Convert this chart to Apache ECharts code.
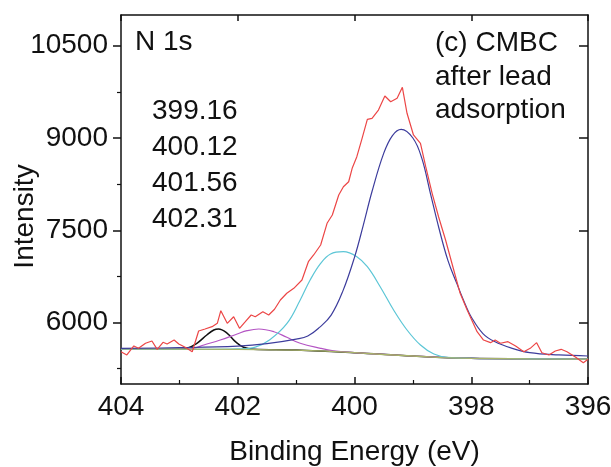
<!DOCTYPE html>
<html>
<head>
<meta charset="utf-8">
<script src="https://cdn.jsdelivr.net/npm/echarts@6/dist/echarts.min.js"></script>
<style>html,body{margin:0;padding:0;background:#fff}#c{width:611px;height:467px}</style>
</head>
<body>
<div id="c"></div>
<script>
// ---- data ----
const xTicks = [396, 398, 400, 402, 404];
const yLabelTicks = [6000, 7500, 9000, 10500];
const yMinorTicks = [5250, 6750, 8250, 9750];
const peakLabels = ['399.16', '400.12', '401.56', '402.31'];

const rawE = [404.00, 403.90, 403.78, 403.70, 403.58, 403.47, 403.38, 403.28, 403.21, 403.09, 403.01, 402.90, 402.78, 402.67, 402.56, 402.44, 402.35, 402.29, 402.18, 402.07, 401.97, 401.87, 401.77, 401.70, 401.57, 401.47, 401.37, 401.27, 401.16, 401.04, 400.90, 400.84, 400.79, 400.70, 400.58, 400.47, 400.38, 400.27, 400.19, 400.10, 400.04, 399.96, 399.87, 399.78, 399.70, 399.59, 399.48, 399.38, 399.27, 399.18, 399.10, 398.99, 398.87, 398.78, 398.67, 398.56, 398.44, 398.30, 398.19, 398.07, 397.90, 397.79, 397.67, 397.59, 397.50, 397.37, 397.24, 397.10, 396.99, 396.88, 396.79, 396.67, 396.56, 396.46, 396.36, 396.21, 396.08, 396.00];
const rawI = [5525, 5472, 5618, 5580, 5662, 5699, 5564, 5678, 5650, 5715, 5650, 5597, 5525, 5862, 5894, 5932, 5987, 6192, 5987, 6094, 5906, 6013, 6122, 6094, 6176, 6122, 6215, 6366, 6475, 6556, 6691, 6854, 6989, 7098, 7260, 7613, 7748, 8073, 8208, 8289, 8507, 8696, 8995, 9304, 9320, 9455, 9683, 9590, 9645, 9824, 9402, 9049, 8914, 8533, 8101, 7720, 7341, 6854, 6475, 6203, 5850, 5715, 5672, 5715, 5662, 5688, 5618, 5525, 5580, 5672, 5509, 5472, 5537, 5564, 5525, 5434, 5346, 5402];

const blueE = [404, 403, 402, 401.5, 401, 400.8, 400.6, 400.4, 400.2, 400.0, 399.85, 399.7, 399.5, 399.35, 399.2, 399.0, 398.85, 398.7, 398.55, 398.4, 398.25, 398.1, 398.0, 397.8, 397.6, 397.3, 397.0, 396.5, 396.0];
const blueI = [5580, 5590, 5615, 5655, 5730, 5780, 5920, 6120, 6510, 7060, 7580, 8130, 8750, 9040, 9141, 9000, 8680, 8100, 7520, 7010, 6640, 6290, 6090, 5820, 5690, 5580, 5510, 5472, 5455];

const cyanE = [404, 402.6, 402.0, 401.7, 401.45, 401.16, 400.93, 400.76, 400.58, 400.41, 400.19, 399.96, 399.78, 399.56, 399.33, 399.10, 398.87, 398.64, 398.41, 398.0, 397.0, 396.0];
const cyanI = [5568, 5562, 5570, 5600, 5720, 5980, 6366, 6691, 6962, 7114, 7151, 7070, 6907, 6582, 6203, 5878, 5634, 5488, 5434, 5418, 5410, 5405];

const magE = [404, 403.0, 402.76, 402.58, 402.30, 402.01, 401.84, 401.64, 401.38, 401.16, 400.93, 400.58, 400.36, 400.0, 399.0, 398.0, 397.0, 396.0];
const magI = [5568, 5564, 5580, 5634, 5715, 5813, 5867, 5894, 5850, 5759, 5662, 5580, 5541, 5509, 5455, 5418, 5410, 5405];

const blackE = [404, 403.0, 402.87, 402.7, 402.53, 402.41, 402.33, 402.18, 402.04, 401.9, 401.73, 401.0, 400.0, 399.0, 398.0, 397.0, 396.0];
const blackI = [5568, 5564, 5580, 5662, 5797, 5878, 5894, 5824, 5688, 5597, 5564, 5552, 5509, 5455, 5418, 5410, 5405];

const baseE = [404, 403, 402, 401, 400.5, 400, 399.5, 399, 398.5, 398, 397, 396];
const baseI = [5570, 5566, 5562, 5552, 5535, 5509, 5480, 5455, 5430, 5418, 5410, 5405];

const pairs = (xs, ys) => xs.map((x, i) => [x, ys[i]]);
const FONT = '"Liberation Sans", Arial, sans-serif';
const INK = '#111';

const chart = echarts.init(document.getElementById('c'), null, {renderer: 'canvas'});

const lineSeries = (name, xs, ys, color, width, smooth, z) => ({
  name, type: 'line', data: pairs(xs, ys), showSymbol: false, symbol: 'none',
  smooth: smooth, lineStyle: {color, width}, z: z, animation: false,
  xAxisIndex: 0, yAxisIndex: 0
});

// y is the vertical centre of the text line
const annText = (text, x, y) => ({
  type: 'text', left: x, top: y - 14,
  style: {text, fill: INK, font: '28px ' + FONT}
});

chart.setOption({
  animation: false,
  backgroundColor: '#fff',
  grid: {left: 121, right: 23, top: 15, bottom: 83, containLabel: false, outerBoundsMode: 'none'},
  xAxis: [{
    type: 'value', position: 'bottom', inverse: true,
    min: xTicks[0], max: xTicks[xTicks.length - 1], interval: 2,
    axisLine: {show: true, lineStyle: {color: INK, width: 1.5}},
    axisTick: {show: true, inside: true, length: 7, lineStyle: {color: INK, width: 1.5}},
    minorTick: {show: true, splitNumber: 2, length: 4, lineStyle: {color: INK, width: 1.2}},
    axisLabel: {fontSize: 28, color: INK, fontFamily: FONT, margin: 9, formatter: v => String(v)},
    splitLine: {show: false}, minorSplitLine: {show: false},
    name: 'Binding Energy (eV)', nameLocation: 'middle', nameGap: 54,
    nameTextStyle: {fontSize: 28, color: INK, fontFamily: FONT}
  }, {
    type: 'value', position: 'top', inverse: true,
    min: xTicks[0], max: xTicks[xTicks.length - 1], interval: 2,
    axisLine: {show: true, lineStyle: {color: INK, width: 1.5}},
    axisTick: {show: true, inside: true, length: 6, lineStyle: {color: INK, width: 1.5}},
    axisLabel: {show: false}, splitLine: {show: false}
  }],
  yAxis: [{
    type: 'value', position: 'left', min: 5000, max: 11000,
    axisLine: {show: true, lineStyle: {color: INK, width: 1.5}},
    axisTick: {show: true, inside: false, length: 8, customValues: yLabelTicks, lineStyle: {color: INK, width: 1.5}},
    axisLabel: {customValues: yLabelTicks, fontSize: 28, color: INK, fontFamily: FONT, margin: 13, formatter: v => String(v)},
    splitLine: {show: false},
    name: 'Intensity', nameLocation: 'middle', nameGap: 96, nameMoveOverlap: false,
    nameTextStyle: {fontSize: 28, color: INK, fontFamily: FONT, verticalAlign: 'middle', padding: [0, 34, 0, 0]}
  }, {
    type: 'value', position: 'left', min: 5000, max: 11000,
    axisLine: {show: false},
    axisTick: {show: true, inside: false, length: 4, customValues: yMinorTicks, lineStyle: {color: INK, width: 1.2}},
    axisLabel: {show: false}, splitLine: {show: false}
  }, {
    type: 'value', position: 'right', min: 5000, max: 11000,
    axisLine: {show: true, lineStyle: {color: INK, width: 1.5}},
    axisTick: {show: true, inside: true, length: 9, customValues: yLabelTicks, lineStyle: {color: INK, width: 1.5}},
    axisLabel: {show: false}, splitLine: {show: false}
  }],
  series: [
    lineSeries('402.31', blackE, blackI, '#111111', 1.5, 0.4, 2),
    lineSeries('401.56', magE, magI, '#b455c4', 1.2, 0.4, 2),
    lineSeries('400.12', cyanE, cyanI, '#5cc6d6', 1.2, 0.4, 2),
    lineSeries('background', baseE, baseI, '#a9b46a', 1.3, false, 3),
    lineSeries('399.16', blueE, blueI, '#3c3c9c', 1.2, 0.4, 4),
    lineSeries('raw', rawE, rawI, '#ec4646', 1.2, false, 5)
  ],
  graphic: [
    annText('N 1s', 135, 42),
    annText(peakLabels[0], 152, 111.5),
    annText(peakLabels[1], 152, 147.5),
    annText(peakLabels[2], 152, 183.5),
    annText(peakLabels[3], 152, 219.5),
    annText('(c) CMBC', 435, 43),
    annText('after lead', 435, 77.5),
    annText('adsorption', 435, 110)
  ]
});
</script>
</body>
</html>
